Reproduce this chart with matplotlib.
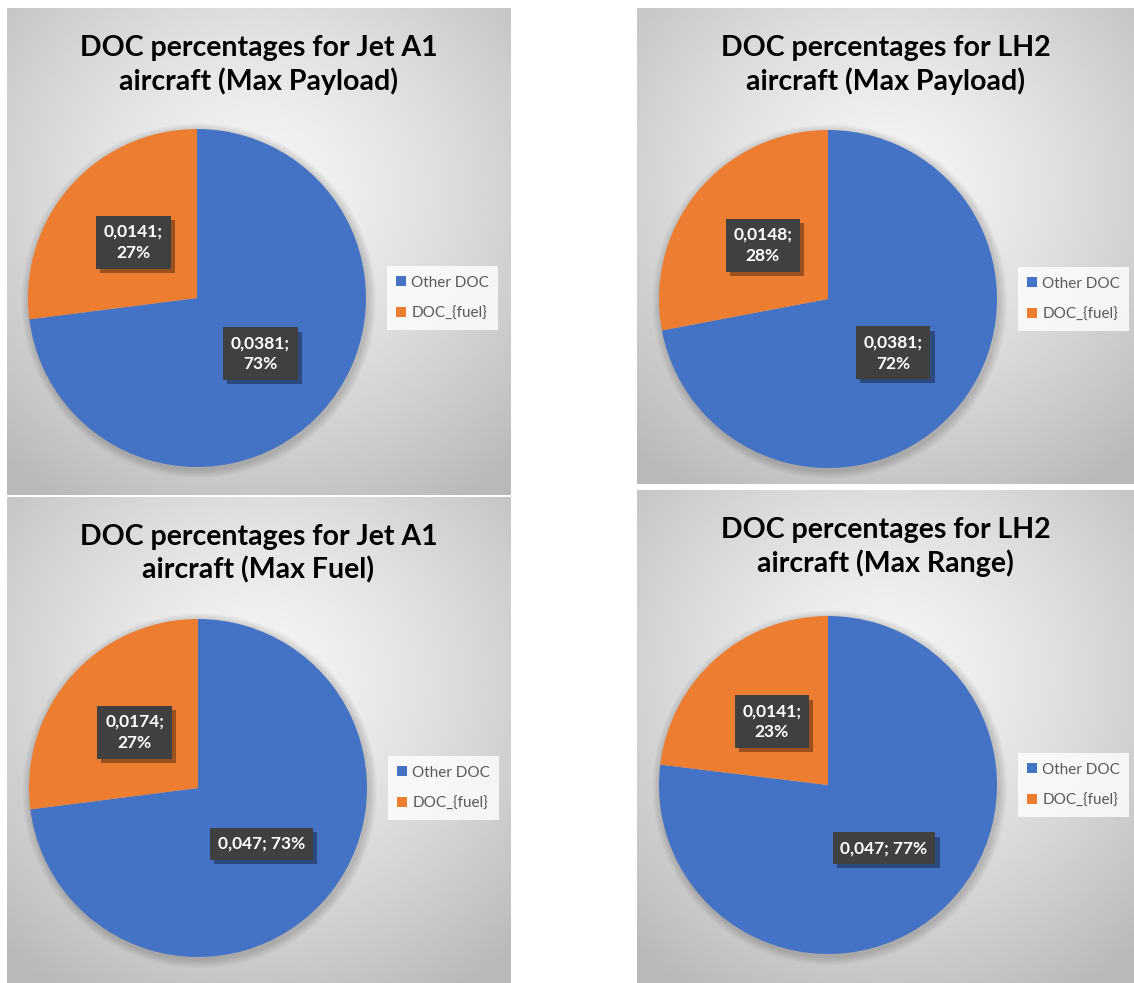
import numpy as np
import matplotlib.pyplot as plt
from matplotlib.patches import Patch, Circle
import matplotlib.patheffects as pe

plt.rcParams['font.family'] = ['Lato', 'DejaVu Sans']

# data
categories = ['Other DOC', 'DOC_{fuel}']
titles = ['DOC percentages for Jet A1\naircraft (Max Payload)',
          'DOC percentages for LH2\naircraft (Max Payload)',
          'DOC percentages for Jet A1\naircraft (Max Fuel)',
          'DOC percentages for LH2\naircraft (Max Range)']
other_doc = [0.0381, 0.0381, 0.047, 0.047]
fuel_doc = [0.0141, 0.0148, 0.0174, 0.0141]
other_txt = ['0,0381;\n73%', '0,0381;\n72%', '0,047; 73%', '0,047; 77%']
fuel_txt = ['0,0141;\n27%', '0,0148;\n28%', '0,0174;\n27%', '0,0141;\n23%']

colors = ['#4472C4', '#ED7D31']

W, H = 1134, 983
fig = plt.figure(figsize=(W / 100, H / 100), dpi=100)
fig.patch.set_facecolor('white')

# panel boxes in pixels: left, top, right, bottom ; pie centre and radius
panels = [(7, 8, 510, 495), (637, 8, 1134, 484),
          (7, 497, 510, 983), (637, 490, 1134, 983)]
centres = [(197, 298), (828, 299), (198, 788), (828, 785)]
radius = 169


def rect(l, t, r, b):
    return [l / W, 1 - b / H, (r - l) / W, (b - t) / H]


for i in range(4):
    l, t, r, b = panels[i]
    cx, cy = centres[i]

    # radial grey background like the Excel chart style
    bg = fig.add_axes(rect(l, t, r, b), zorder=0)
    gx, gy = np.meshgrid(np.linspace(0, 1, 200), np.linspace(0, 1, 200))
    dist = np.sqrt((gx - 0.5) ** 2 + (gy - 0.38) ** 2)
    shade = 0.965 - 0.24 * np.clip(dist / 0.75, 0, 1) ** 1.3
    bg.imshow(shade, cmap='gray', vmin=0, vmax=1, extent=[0, 1, 1, 0],
              aspect='auto', interpolation='bilinear')
    bg.set_axis_off()

    # title
    fig.text((l + r) / 2 / W, 1 - (t + 57) / H, titles[i], ha='center',
             va='center', fontsize=20.5, fontweight='bold', color='black',
             linespacing=1.3)

    # pie axes
    ax = fig.add_axes(rect(cx - radius, cy - radius, cx + radius, cy + radius),
                      zorder=1)
    vals = [other_doc[i], fuel_doc[i]]
    for k in range(1, 8):
        ax.add_patch(Circle((0.01, -0.015), 1 + k * 0.007, fc='black',
                            alpha=0.025, ec='none', clip_on=False, zorder=0))
    wedges, _ = ax.pie(vals, colors=colors, startangle=90, counterclock=False,
                       radius=1, wedgeprops=dict(linewidth=0, zorder=1))
    ax.set_xlim(-1, 1)
    ax.set_ylim(-1, 1)
    ax.set_aspect('equal')
    ax.set_axis_off()

    for w, txt in zip(wedges, [other_txt[i], fuel_txt[i]]):
        ang = np.deg2rad((w.theta1 + w.theta2) / 2)
        x, y = 0.5 * np.cos(ang), 0.5 * np.sin(ang)
        t_ = ax.text(x, y, txt, ha='center', va='center', fontsize=12.5,
                     fontweight='bold', color='white', linespacing=1.4,
                     zorder=4,
                     bbox=dict(boxstyle='square,pad=0.45', fc='#404040',
                               ec='none'))
        t_.get_bbox_patch().set_path_effects(
            [pe.SimplePatchShadow(offset=(3, -3), shadow_rgbFace='black',
                                  alpha=0.35), pe.Normal()])

    handles = [Patch(fc=c, ec='none') for c in colors]
    leg = ax.legend(handles, categories, loc='center left',
                    bbox_to_anchor=((cx + 190) / W, 1 - cy / H),
                    bbox_transform=fig.transFigure, fontsize=11,
                    labelcolor='#595959', frameon=True, fancybox=False,
                    handlelength=0.65, handleheight=0.65, handletextpad=0.35,
                    labelspacing=1.1, borderpad=0.6, borderaxespad=0)
    leg.get_frame().set_facecolor((1, 1, 1, 0.3))
    leg.get_frame().set_edgecolor('none')

fig.savefig('out.png', dpi=100)
